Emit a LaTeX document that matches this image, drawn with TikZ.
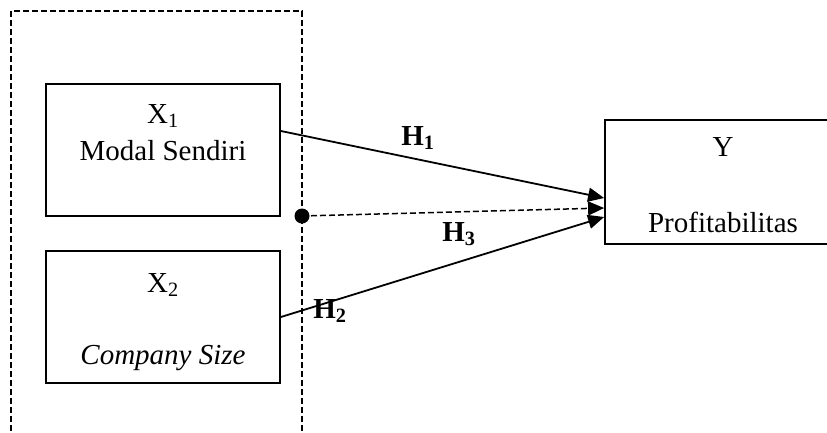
\documentclass[tikz,border=0pt]{standalone}
\usepackage{fontspec}
\setmainfont{Liberation Serif}
\usetikzlibrary{arrows.meta,calc}
\tikzset{
  varbox/.style={draw, line width=1.8pt, minimum width=234pt, minimum height=132pt, inner sep=0pt},
  txt/.style={font=\fontsize{29}{33}\selectfont, inner sep=0pt, anchor=base},
  hyp/.style={font=\fontsize{29}{33}\selectfont\bfseries, inner sep=0pt, anchor=base},
  link/.style={line width=1.8pt, -{Triangle[length=16pt,width=14pt]}},
  grpline/.style={line width=1.5pt, dash pattern=on 6pt off 3pt},
}
\newcommand{\sbs}[1]{\textsubscript{#1}}
\begin{document}
\begin{tikzpicture}[x=1pt,y=-1pt]
  \useasboundingbox (0,0) rectangle (827,432);
  \clip (0,0) rectangle (827,432);
  % group frame around the independent variables (open at the bottom)
  \draw[grpline] (11,440) -- (11,11) -- (302,11) -- (302,440);
  % variable boxes
  \node[varbox] (x1) at (163,150) {};
  \node[varbox] (x2) at (163,317) {};
  \node[draw, line width=1.8pt, minimum width=236pt, minimum height=124pt, inner sep=0pt] (y) at (723,182) {};
  % box labels
  \node[txt] (x1a) at (163,123) {X\sbs{1}};
  \node[txt] (x1b) at (163,160) {Modal Sendiri};
  \node[txt] (x2a) at (163,292) {X\sbs{2}};
  \node[txt] (x2b) at (163,364) {\itshape Company Size};
  \node[txt] (ya) at (723,156) {Y};
  \node[txt] (yb) at (723,232) {Profitabilitas};
  % moderation point
  \node[circle, fill, inner sep=0pt, minimum size=15pt] (dot) at (302,216) {};
  % arrow ends on the Y box
  \coordinate (e1) at ($(y.west)+(0,16)$);
  \coordinate (e3) at ($(y.west)+(0,26)$);
  \coordinate (e2) at ($(y.west)+(0,35)$);
  \coordinate (s1) at ($(x1.east)+(0,-19)$);
  % paths
  \draw[link] (s1) -- (e1);
  \draw[link] (x2.east) -- (e2);
  \draw[link, line width=1.5pt, dash pattern=on 6pt off 3pt] (dot.center) -- (e3);
  % hypothesis labels
  \node[hyp] (h1) at (418,145) {H\sbs{1}};
  \node[hyp] (h3) at (459,241) {H\sbs{3}};
  \node[hyp] (h2) at (330,318) {H\sbs{2}};
\end{tikzpicture}
\end{document}
